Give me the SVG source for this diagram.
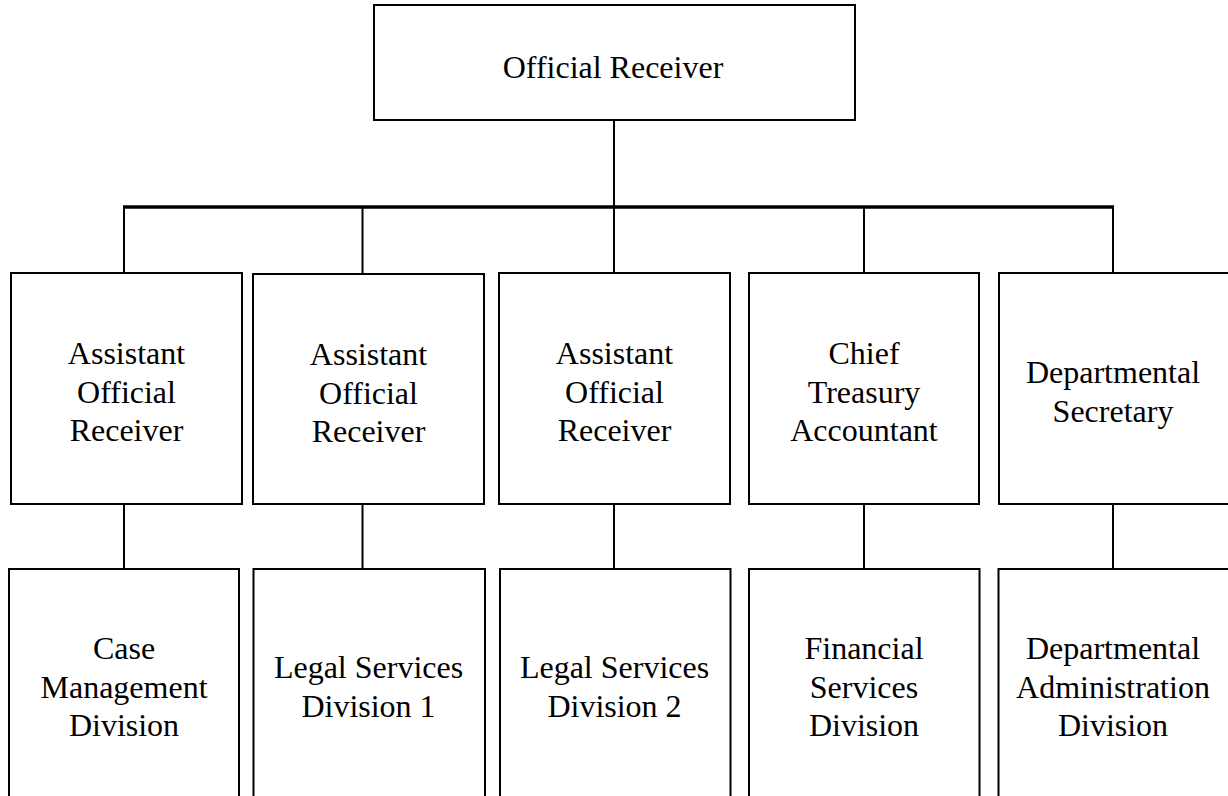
<svg xmlns="http://www.w3.org/2000/svg" width="1228" height="796" viewBox="0 0 1228 796">
<style>
.box{fill:#fff;stroke:#000;stroke-width:2}
.t{font-family:"Liberation Serif","Times New Roman",serif;font-size:32px;fill:#000;text-anchor:middle}
.c{stroke:#000;stroke-width:2;fill:none}
.bar{stroke:#000;stroke-width:3.5;fill:none}
</style>
<rect width="1228" height="796" fill="#fff"/>
<g id="connectors">
<line class="c" x1="614" y1="120" x2="614" y2="207"/>
<line class="bar" x1="123" y1="207" x2="1114" y2="207"/>
<line class="c" x1="124" y1="207" x2="124" y2="273"/>
<line class="c" x1="362.5" y1="207" x2="362.5" y2="273"/>
<line class="c" x1="614" y1="207" x2="614" y2="273"/>
<line class="c" x1="864" y1="207" x2="864" y2="273"/>
<line class="c" x1="1113" y1="207" x2="1113" y2="273"/>
<line class="c" x1="124" y1="504" x2="124" y2="569"/>
<line class="c" x1="362.5" y1="504" x2="362.5" y2="569"/>
<line class="c" x1="614" y1="504" x2="614" y2="569"/>
<line class="c" x1="864" y1="504" x2="864" y2="569"/>
<line class="c" x1="1113" y1="504" x2="1113" y2="569"/>
</g>
<g id="official-receiver">
<rect class="box" x="374" y="5" width="481" height="115"/>
<text class="t" x="613" y="78">Official Receiver</text>
</g>
<g id="aor1">
<rect class="box" x="11" y="273" width="231" height="231"/>
<text class="t" x="126.5" y="364">Assistant</text>
<text class="t" x="126.5" y="402.5">Official</text>
<text class="t" x="126.5" y="441">Receiver</text>
</g>
<g id="aor2">
<rect class="box" x="253" y="274" width="231" height="230"/>
<text class="t" x="368.5" y="365">Assistant</text>
<text class="t" x="368.5" y="403.5">Official</text>
<text class="t" x="368.5" y="442">Receiver</text>
</g>
<g id="aor3">
<rect class="box" x="499" y="273" width="231" height="231"/>
<text class="t" x="614.5" y="364">Assistant</text>
<text class="t" x="614.5" y="402.5">Official</text>
<text class="t" x="614.5" y="441">Receiver</text>
</g>
<g id="cta">
<rect class="box" x="749" y="273" width="230" height="231"/>
<text class="t" x="864" y="364">Chief</text>
<text class="t" x="864" y="402.5">Treasury</text>
<text class="t" x="864" y="441">Accountant</text>
</g>
<g id="ds">
<rect class="box" x="999" y="273" width="240" height="231"/>
<text class="t" x="1113" y="383">Departmental</text>
<text class="t" x="1113" y="422">Secretary</text>
</g>
<g id="cmd">
<rect class="box" x="9" y="569" width="230" height="240"/>
<text class="t" x="124" y="659">Case</text>
<text class="t" x="124" y="697.5">Management</text>
<text class="t" x="124" y="736">Division</text>
</g>
<g id="lsd1">
<rect class="box" x="253.5" y="569" width="231.5" height="240"/>
<text class="t" x="368.5" y="678">Legal Services</text>
<text class="t" x="368.5" y="717">Division 1</text>
</g>
<g id="lsd2">
<rect class="box" x="500" y="569" width="230.5" height="240"/>
<text class="t" x="614.5" y="678">Legal Services</text>
<text class="t" x="614.5" y="717">Division 2</text>
</g>
<g id="fsd">
<rect class="box" x="749" y="569" width="230.5" height="240"/>
<text class="t" x="864" y="659">Financial</text>
<text class="t" x="864" y="697.5">Services</text>
<text class="t" x="864" y="736">Division</text>
</g>
<g id="dad">
<rect class="box" x="998.5" y="569" width="240" height="240"/>
<text class="t" x="1113" y="659">Departmental</text>
<text class="t" x="1113" y="697.5">Administration</text>
<text class="t" x="1113" y="736">Division</text>
</g>
</svg>
